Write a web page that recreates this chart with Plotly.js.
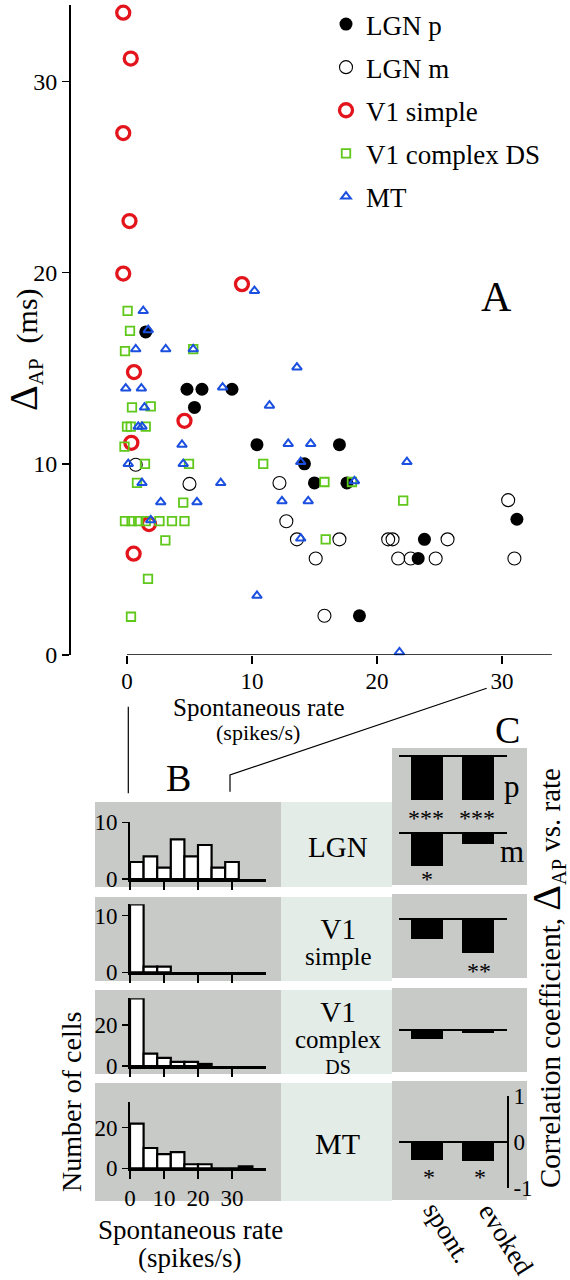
<!DOCTYPE html>
<html><head><meta charset="utf-8">
<script src="https://cdn.plot.ly/plotly-3.0.1.min.js"></script>
<style>html,body{margin:0;padding:0;background:#fff}#chart{width:570px;height:1280px}</style>
</head><body><div id="chart"></div>
<script>
// ---------- DATA (panel A: spontaneous rate vs Delta AP) ----------
const lgnPRate = [1.5, 4.8, 6.0, 8.4, 5.4, 10.4, 17.0, 14.2, 15.0, 17.6, 31.2, 23.8, 23.3, 18.6];
const lgnPDap  = [16.9, 13.9, 13.9, 13.9, 12.95, 11.0, 11.0, 10.0, 9.0, 9.0, 7.1, 6.05, 5.05, 2.05];

const lgnMRate = [0.7, 5.0, 12.2, 30.5, 12.75, 13.6, 17.0, 20.9, 21.25, 25.65, 15.1, 21.7, 22.7, 24.7, 31.0, 15.8];
const lgnMDap  = [9.95, 8.95, 9.0, 8.1, 7.0, 6.05, 6.05, 6.05, 6.05, 6.05, 5.05, 5.05, 5.05, 5.05, 5.05, 2.05];

const v1sRate = [-0.3, 0.3, -0.3, 0.2, -0.3, 9.2, 0.56, 4.6, 0.35, 1.76, 0.53];
const v1sDap  = [33.6, 31.2, 27.3, 22.7, 19.95, 19.4, 14.8, 12.25, 11.1, 6.85, 5.3];

const v1cRate = [0.05, 0.24, -0.16, 5.3, 0.4, 1.9, 0.0, 0.3, 1.5, -0.2, 1.44, 4.96, 10.9, 0.8, 4.5,
                 -0.16, 0.37, 0.9, 1.5, 2.6, 3.6, 4.6, 3.07, 1.68, 0.32, 15.8, 18.0, 22.1, 15.9];
const v1cDap  = [18.0, 16.95, 15.9, 16.0, 12.95, 13.0, 11.95, 11.95, 11.95, 10.9, 10.0, 10.0, 10.0, 9.0, 7.97,
                 7.0, 7.0, 7.0, 7.0, 7.0, 7.0, 7.0, 6.0, 3.98, 2.0, 9.05, 9.05, 8.08, 6.05];

const mtRate = [10.2, 1.3, 1.7, 0.7, 3.1, 5.3, -0.1, 1.15, 7.65, 1.4, 0.9, 1.2, 4.4, 0.1, 4.5, 1.2, 7.5,
                2.7, 5.6, 1.9, 10.4, 13.6, 11.4, 12.9, 14.7, 13.9, 22.4, 18.2, 12.4, 14.5, 13.9, 21.8];
const mtDap  = [19.05, 18.0, 17.0, 16.0, 16.0, 16.0, 13.95, 13.95, 14.0, 12.95, 11.95, 11.95, 11.0, 10.0, 10.0, 9.0, 9.0,
                8.0, 8.0, 7.05, 3.1, 15.05, 13.05, 11.05, 11.05, 10.1, 10.1, 9.1, 8.05, 8.05, 6.1, 0.15];

// ---------- DATA (panel B: histograms of spontaneous rate) ----------
const rateBins       = [2, 6, 10, 14, 18, 22, 26, 30, 34];   // bin centres, spikes/s (4 spikes/s bins)
const histLGN        = [3, 4, 2, 7, 4, 6, 2, 3];
const histV1simple   = [12, 1, 1];
const histV1complex  = [33, 6, 4, 2, 2, 1];
const histMT         = [22, 10, 7, 8, 2, 2, 0, 0, 1];

// ---------- DATA (panel C: correlation coefficients) ----------
const corrCats   = ['spont.', 'evoked'];
const corrLGNp   = [-0.97, -0.97];
const corrLGNm   = [-0.71, -0.23];
const corrV1s    = [-0.44, -0.74];
const corrV1c    = [-0.20, -0.07];
const corrMT     = [-0.39, -0.41];

// ---------- helpers (layout only) ----------
const W = 570, H = 1280;
const PX = v => v / W;
const PY = v => 1 - v / H;
const domX = (a, b) => [a / W, b / W];
const domY = (top, bottom) => [1 - bottom / H, 1 - top / H];
const serif = 'Liberation Serif';
const BLK = '#000';

const red = '#e3141b', green = '#5fc81a', blue = '#1b4fe0';

const traces = [];
function sc(name, x, y, marker) {
  traces.push({type: 'scatter', mode: 'markers', name, x, y, xaxis: 'x', yaxis: 'y',
    legendgroup: name, cliponaxis: false, marker, hoverinfo: 'skip'});
}
sc('LGN p', lgnPRate, lgnPDap, {symbol: 'circle', size: 13, color: BLK, line: {width: 0}});
sc('LGN m', lgnMRate, lgnMDap, {symbol: 'circle-open', size: 13, color: BLK, line: {width: 1.1, color: BLK}});
sc('V1 simple', v1sRate, v1sDap, {symbol: 'circle-open', size: 13, color: red, line: {width: 3.3, color: red}});
sc('V1 complex DS', v1cRate, v1cDap, {symbol: 'square-open', size: 8.5, color: green, line: {width: 1.8, color: green}});
sc('MT', mtRate, mtDap, {symbol: 'triangle-up-open', size: 8.5, color: blue, line: {width: 2, color: blue}});

const hists = [histLGN, histV1simple, histV1complex, histMT];
hists.forEach((h, i) => {
  traces.push({type: 'bar', x: rateBins.slice(0, h.length), y: h, width: 4,
    xaxis: 'x' + (i + 2), yaxis: 'y' + (i + 2), showlegend: false, cliponaxis: false,
    marker: {color: '#fff', line: {color: BLK, width: 2.2}}, hoverinfo: 'skip'});
});

const corrs = [corrLGNp, corrLGNm, corrV1s, corrV1c, corrMT];
corrs.forEach((c, i) => {
  traces.push({type: 'bar', x: corrCats, y: c, width: 0.61,
    xaxis: 'x' + (i + 6), yaxis: 'y' + (i + 6), showlegend: false, cliponaxis: false,
    marker: {color: BLK, line: {width: 0}}, hoverinfo: 'skip'});
});

const layout = {
  width: W, height: H, margin: {l: 0, r: 0, t: 0, b: 0},
  paper_bgcolor: '#fff', plot_bgcolor: 'rgba(0,0,0,0)',
  font: {family: serif, color: BLK},
  showlegend: true,
  legend: {x: PX(326), y: 1, xanchor: 'left', yanchor: 'top', bgcolor: 'rgba(0,0,0,0)',
    font: {family: serif, size: 27, color: BLK}, tracegroupgap: 5, itemsizing: 'trace'},
  bargap: 0,
  // Panel A
  xaxis: {domain: domX(70.5, 551.9), range: [-4.52, 34], anchor: 'y', showline: false, zeroline: false,
    showgrid: false, ticks: 'outside', ticklen: 8, tickwidth: 1.5, tickcolor: BLK, ticklabelstandoff: -3,
    tickvals: [0, 10, 20, 30], tickfont: {family: serif, size: 23, color: BLK}},
  yaxis: {domain: domY(5, 655), range: [0, 34], anchor: 'x', showline: true, linewidth: 1.5, linecolor: BLK,
    zeroline: false, showgrid: false, ticks: 'outside', ticklen: 7, tickwidth: 1.5, tickcolor: BLK,
    tickvals: [0, 10, 20, 30], tickfont: {family: serif, size: 24, color: BLK}},
  shapes: [], annotations: []
};

// Histogram axes
const histDoms = [[822.3, 879], [904.3, 972.3], [998.3, 1066], [1101.7, 1168.3]];
const histRanges = [[0, 10], [0, 12], [0, 33], [0, 32.8]];
const histTicks = [[0, 10], [0, 10], [0, 20], [0, 20]];
histDoms.forEach((d, i) => {
  const n = i + 2;
  layout['xaxis' + n] = {domain: domX(130, 266), range: [0, 40], anchor: 'y' + n, showline: true,
    linewidth: 2.5, linecolor: BLK, zeroline: false, showgrid: false, ticks: 'outside', ticklen: 8,
    tickwidth: 2, tickcolor: BLK, tickvals: [0, 10, 20, 30], showticklabels: i === 3,
    tickfont: {family: serif, size: 23, color: BLK}};
  layout['yaxis' + n] = {domain: domY(d[0], d[1]), range: histRanges[i], anchor: 'x' + n, showline: true,
    linewidth: 2, linecolor: BLK, zeroline: false, showgrid: false, ticks: 'outside', ticklen: 6,
    tickwidth: 1.5, tickcolor: BLK, tickvals: histTicks[i], tickfont: {family: serif, size: 23, color: BLK}};
});

// Correlation axes
const corrDoms = [[751.4, 801.8], [828.7, 879.1], [914.4, 964.8], [1025.4, 1075.8], [1096, 1187.6]];
corrDoms.forEach((d, i) => {
  const n = i + 6;
  layout['xaxis' + n] = {domain: domX(399, 507), range: [-0.549, 1.569], anchor: 'y' + n, visible: false,
    type: 'category'};
  const ya = {domain: domY(d[0], d[1]), range: i === 4 ? [-1, 1] : [-1, 0.1], anchor: 'x' + n,
    zeroline: true, zerolinecolor: BLK, zerolinewidth: 2, showgrid: false};
  if (i === 4) {
    Object.assign(ya, {side: 'right', showline: true, linewidth: 1.8, linecolor: BLK, ticks: 'inside',
      ticklen: 8, tickwidth: 1.8, tickcolor: BLK, tickvals: [-1, 0, 1], ticktext: ['-1', '0', '1'],
      tickfont: {family: serif, size: 23, color: BLK}});
  } else {
    Object.assign(ya, {showline: false, ticks: '', showticklabels: false});
  }
  layout['yaxis' + n] = ya;
});

// Shapes: backgrounds, axis line for A, connector lines
const gray = '#c8cac8', light = '#e4ece8';
const rowsB = [[802, 887], [897, 981], [990, 1074], [1083, 1201]];
const rowsC = [[748, 885], [894, 978], [988, 1072], [1081, 1200]];
rowsB.forEach(r => {
  layout.shapes.push({type: 'rect', xref: 'paper', yref: 'paper', x0: PX(95), x1: PX(281), y0: PY(r[1]), y1: PY(r[0]),
    fillcolor: gray, line: {width: 0}, layer: 'below'});
  layout.shapes.push({type: 'rect', xref: 'paper', yref: 'paper', x0: PX(281), x1: PX(392), y0: PY(r[1]), y1: PY(r[0]),
    fillcolor: light, line: {width: 0}, layer: 'below'});
});
rowsC.forEach(r => {
  layout.shapes.push({type: 'rect', xref: 'paper', yref: 'paper', x0: PX(392), x1: PX(527), y0: PY(r[1]), y1: PY(r[0]),
    fillcolor: gray, line: {width: 0}, layer: 'below'});
});
layout.shapes.push({type: 'line', xref: 'x', yref: 'y', x0: 0, x1: 34, y0: 0, y1: 0, line: {color: BLK, width: 1.5}});
layout.shapes.push({type: 'line', xref: 'paper', yref: 'paper', x0: PX(128.3), x1: PX(128.3), y0: PY(706.7), y1: PY(793.3),
  line: {color: BLK, width: 1.2}});
layout.shapes.push({type: 'path', xref: 'paper', yref: 'paper',
  path: `M ${PX(230)} ${PY(791.7)} L ${PX(230)} ${PY(775)} L ${PX(486.7)} ${PY(688.3)}`,
  line: {color: BLK, width: 1.2}});

// Annotations
function ann(text, x, y, size, extra) {
  layout.annotations.push(Object.assign({text, xref: 'paper', yref: 'paper', x: PX(x), y: PY(y),
    xanchor: 'center', yanchor: 'middle', showarrow: false, font: {family: serif, size, color: BLK}}, extra || {}));
}
ann('A', 496, 297, 42);
ann('B', 178, 778, 38);
ann('C', 507, 730, 38);
ann('<span style="font-size:40px">Δ</span><sub>AP</sub>\u00a0\u00a0(ms)', 24, 350, 30, {textangle: -90});
ann('Spontaneous rate', 258, 707, 25);
ann('(spikes/s)', 258, 732, 22);
ann('Spontaneous rate', 190, 1230, 27);
ann('(spikes/s)', 190, 1258, 27);
ann('Number of cells', 71, 1102, 28, {textangle: -90});
ann('Correlation coefficient, <span style="font-size:40px">Δ</span><sub>AP</sub> vs. rate', 547, 978, 29, {textangle: -90});
ann('LGN', 337.5, 846.7, 29);
ann('<span style="font-size:29px">V1</span><br><span style="font-size:25px">simple</span>', 338, 941, 20);
ann('<span style="font-size:29px">V1</span><br><span style="font-size:25px">complex</span><br><span style="font-size:20px">DS</span>', 338, 1037, 20);
ann('MT', 337.5, 1143, 30);
ann('p', 511.7, 786.7, 31);
ann('m', 511.7, 851.7, 31);
ann('spont.', 447, 1232, 27, {textangle: 58});
ann('evoked', 506, 1239, 27, {textangle: 58});
ann('***', 425.7, 818, 24);
ann('***', 477, 818, 24);
ann('*', 427, 879, 24);
ann('**', 479, 971, 24);
ann('*', 429, 1177, 24);
ann('*', 480, 1177, 24);

Plotly.newPlot('chart', traces, layout, {staticPlot: true, displayModeBar: false});
</script></body></html>
